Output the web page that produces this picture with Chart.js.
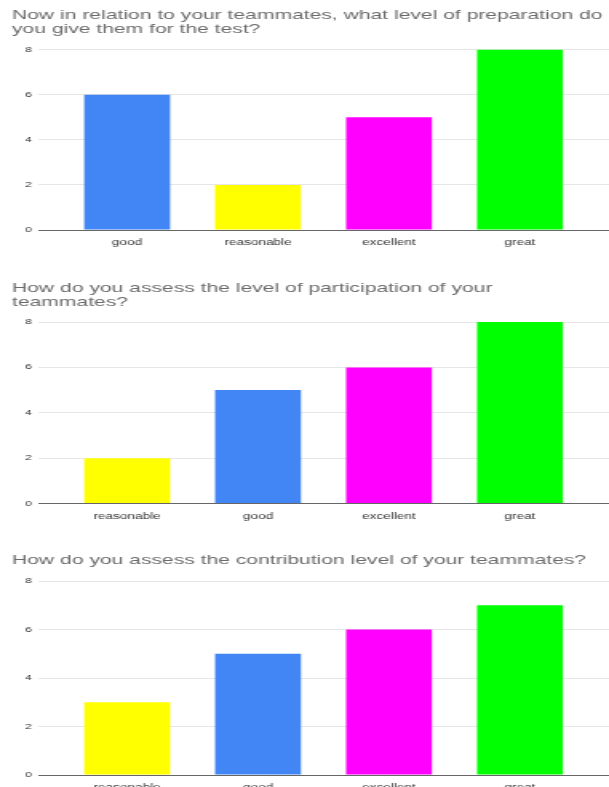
<!DOCTYPE html>
<html>
<head>
<meta charset="utf-8">
<script src="https://cdn.jsdelivr.net/npm/chart.js@4"></script>
<style>
  body { margin: 0; background: #fff; width: 609px; height: 787px; overflow: hidden; position: relative; }
  /* the source screenshot is stretched sideways, so each chart is drawn narrow and scaled */
  .wrap { position: absolute; left: 0; width: 381px; transform: scaleX(1.5984); transform-origin: 0 0; }
  canvas { display: block; }
</style>
</head>
<body>
<div class="wrap" style="top:0px"><canvas id="prepChart" width="381" height="250"></canvas></div>
<div class="wrap" style="top:265px"><canvas id="partChart" width="381" height="259"></canvas></div>
<div class="wrap" style="top:540px"><canvas id="contribChart" width="381" height="255"></canvas></div>
<script>
var yTicks = [0, 2, 4, 6, 8];

var prepLabels = ['good', 'reasonable', 'excellent', 'great'];
var prepValues = [6, 2, 5, 8];

var partLabels = ['reasonable', 'good', 'excellent', 'great'];
var partValues = [2, 5, 6, 8];

var contribLabels = ['reasonable', 'good', 'excellent', 'great'];
var contribValues = [3, 5, 6, 7];

var colours = {
    good: '#4285f4',
    reasonable: '#ffff00',
    excellent: '#ff00ff',
    great: '#00ff00'
};

Chart.defaults.font.family = "'Liberation Sans', Arial, sans-serif";

function makeChart(id, title, labels, values, padTop, padBottom, axisHeight) {
    var ctx = document.getElementById(id).getContext('2d');
    return new Chart(ctx, {
        type: 'bar',
        data: {
            datasets: [{
                data: values.map(function (v, i) { return { x: i, y: v }; }),
                backgroundColor: labels.map(function (l) { return colours[l]; }),
                borderWidth: 0,
                barPercentage: 0.656,
                categoryPercentage: 1
            }]
        },
        options: {
            responsive: false,
            animation: false,
            layout: { padding: { left: 7.5, right: 0, top: 0, bottom: 0 } },
            plugins: {
                legend: { display: false },
                tooltip: { enabled: false },
                title: {
                    display: true,
                    text: title,
                    align: 'start',
                    color: '#6b6b6b',
                    font: { size: 13.2, weight: 'normal', lineHeight: '14px' },
                    padding: { top: padTop, bottom: padBottom }
                }
            },
            scales: {
                x: {
                    type: 'linear',
                    offset: false,
                    min: -0.68,
                    max: 3.68,
                    grid: { display: false, offset: false },
                    border: { display: false },
                    afterBuildTicks: function (scale) {
                        scale.ticks = labels.map(function (l, i) { return { value: i }; });
                    },
                    afterFit: function (scale) { scale.height = axisHeight; },
                    ticks: {
                        autoSkip: false,
                        maxRotation: 0,
                        padding: 0,
                        color: '#333',
                        font: { size: 8.5 },
                        callback: function (v) { return labels[v]; }
                    }
                },
                y: {
                    min: 0,
                    max: 8,
                    afterBuildTicks: function (scale) {
                        scale.ticks = yTicks.map(function (v) { return { value: v }; });
                    },
                    afterFit: function (scale) { scale.width = 16.3; },
                    border: { display: false },
                    grid: {
                        drawTicks: false,
                        color: function (c) {
                            return c.tick && c.tick.value === 0 ? '#666' : '#e6e6e6';
                        }
                    },
                    ticks: {
                        padding: 4,
                        color: '#333',
                        font: { size: 7.5 }
                    }
                }
            }
        }
    });
}

makeChart('prepChart',
    ['Now in relation to your teammates, what level of preparation do', 'you give them for the test?'],
    prepLabels, prepValues, 8.4, 13.1, 20);

makeChart('partChart',
    ['How do you assess the level of participation of your', 'teammates?'],
    partLabels, partValues, 16.4, 12.6, 20.5);

makeChart('contribChart',
    'How do you assess the contribution level of your teammates?',
    contribLabels, contribValues, 13.4, 13.6, 20);
</script>
</body>
</html>
